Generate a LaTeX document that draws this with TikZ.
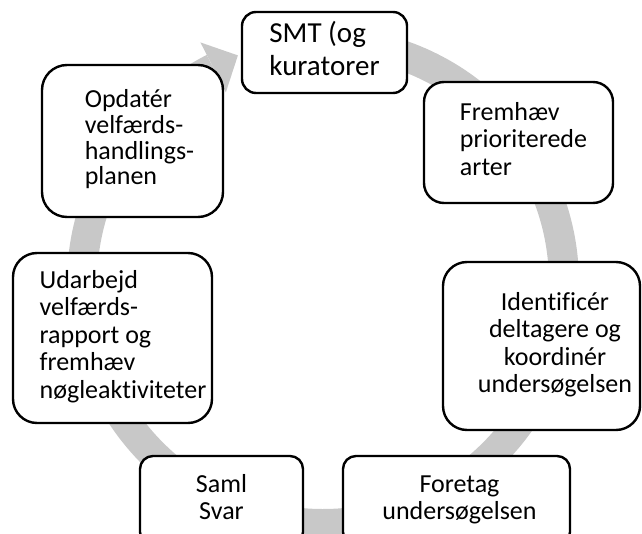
\documentclass[tikz,border=0pt]{standalone}
\usepackage{fontspec}
\setmainfont{Carlito}[Ligatures=NoCommon]
\usetikzlibrary{calc}
\definecolor{ringgray}{RGB}{200,200,200}
\tikzset{
  stepbox/.style={draw=black, line width=2.4pt, fill=white, inner sep=0pt,
    font=\fontsize{26}{27.5}\selectfont},
  ringband/.style={draw=ringgray, line width=30pt},
  ringhead/.style={fill=ringgray, draw=none},
}
\begin{document}
\begin{tikzpicture}[x=1pt,y=1pt]
\useasboundingbox (0,0) rectangle (642,533);
\clip (0,0) rectangle (642,533);
\coordinate (c) at (323,250);
\draw[ringband] ($(c)+(92:241)$) arc[start angle=92, end angle=-243, radius=241];
\fill[ringhead] ($(c)+(117:214)$) -- ($(c)+(117:270)$) -- ($(c)+(110.5:243)$) -- cycle;

\node[stepbox, rounded corners=14pt, minimum width=165, minimum height=81,
  font=\fontsize{29}{33}\selectfont] (smt) at (324.5,480.5)
  {\raisebox{-3pt}{\begin{tabular}{@{}l@{}}SMT (og\\kuratorer\end{tabular}}};

\node[stepbox, rounded corners=20pt, minimum width=189, minimum height=121] (frem) at (518.5,390.5)
  {\hspace*{10pt}\raisebox{-2pt}{\begin{tabular}{@{}l@{}}Fremhæv\\prioriterede\\arter\end{tabular}}};

\node[stepbox, rounded corners=24pt, minimum width=197, minimum height=168] (ident) at (541.5,187)
  {\hspace*{27pt}\raisebox{-4pt}{\begin{tabular}{@{}c@{}}Identificér\\deltagere og\\koordinér\\undersøgelsen\end{tabular}}};

\node[stepbox, rounded corners=13pt, minimum width=227, minimum height=89] (foretag) at (456.5,32.5)
  {\hspace*{6pt}\begin{tabular}{@{}c@{}}Foretag\\undersøgelsen\end{tabular}};

\node[stepbox, rounded corners=13pt, minimum width=163, minimum height=89] (saml) at (221.5,32.5)
  {\begin{tabular}{@{}c@{}}Saml\\Svar\end{tabular}};

\node[stepbox, rounded corners=24pt, minimum width=199, minimum height=170] (udarb) at (112.5,195)
  {\hspace*{21pt}\begin{tabular}{@{}l@{}}Udarbejd\\velfærds-\\rapport og\\fremhæv\\nøgleaktiviteter\end{tabular}};

\node[stepbox, rounded corners=25pt, minimum width=181, minimum height=152,
  font=\fontsize{26}{25}\selectfont] (opd) at (132.5,392)
  {\hspace*{14pt}\raisebox{4pt}{\begin{tabular}{@{}l@{}}Opdatér\\velfærds-\\handlings-\\planen\end{tabular}}};
\end{tikzpicture}
\end{document}
